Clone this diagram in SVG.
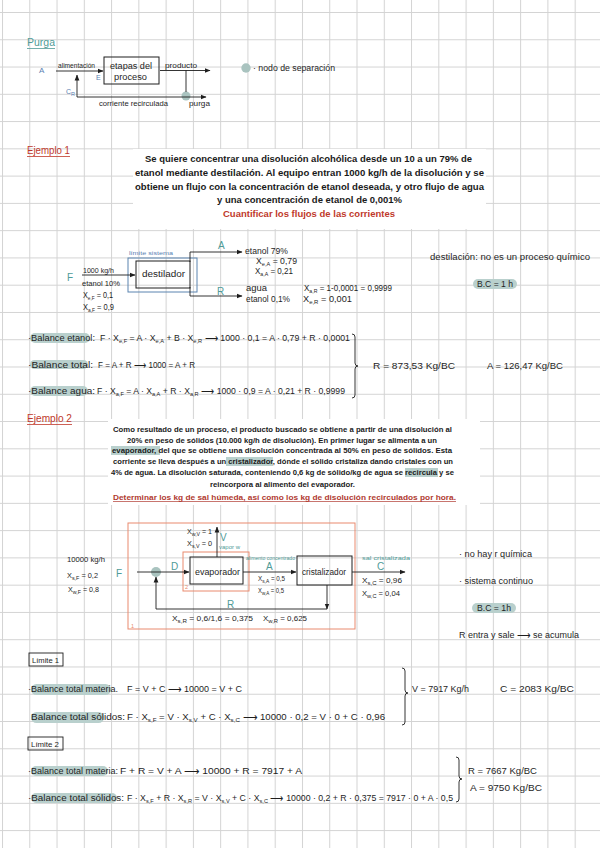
<svg xmlns="http://www.w3.org/2000/svg" width="600" height="848" viewBox="0 0 600 848">
<style>
text{font-family:"Liberation Sans",Arial,sans-serif}
.h{font-size:8.5px;fill:#1e1e1e}
.hs{font-size:7.5px;fill:#1e1e1e}
.sb{font-size:5.5px;baseline-shift:-1.5px}
.tl{fill:#4f9b97;font-size:10px}
.tls{fill:#4f9b97;font-size:5.5px}
.bl{fill:#5a7fb3}
.red{fill:#c0392b}
.p1{font-size:9.5px;font-weight:bold;fill:#1a1a1a}
.p2{font-size:7.5px;font-weight:bold;fill:#1a1a1a}
.ln{fill:none;stroke:#1e1e1e;stroke-width:0.9}
.arr{marker-end:url(#ah)}
.box{fill:none;stroke:#1e1e1e;stroke-width:1}
.hl{fill:#b9d0cd}
.node{fill:#a9c3bf}
</style>
<defs>
<pattern id="grid" x="2" y="12" width="27.27" height="27.27" patternUnits="userSpaceOnUse">
<path d="M0 0.5H27.27M0.5 0V27.27" stroke="#d3d3d3" stroke-width="1" fill="none"/>
</pattern>
<marker id="ah" markerWidth="6" markerHeight="6" refX="5.5" refY="3" orient="auto" markerUnits="userSpaceOnUse">
<path d="M0,0.6 L6,3 L0,5.4z" fill="#1e1e1e"/>
</marker>
</defs>
<rect width="600" height="848" fill="#ffffff"/>
<rect width="600" height="848" fill="url(#grid)"/>

<!-- ===== Purga ===== -->
<g id="purga-title">
<text x="27" y="46" class="tl" textLength="28" lengthAdjust="spacingAndGlyphs">Purga</text>
<line x1="27" y1="48.5" x2="55" y2="48.5" stroke="#4f9b97" stroke-width="0.8"/>
</g>
<g id="purga-labels">
<text x="39" y="73" class="bl" font-size="8">A</text>
<text x="58" y="68" class="hs" textLength="37" lengthAdjust="spacingAndGlyphs">alimentación</text>
<text x="96" y="80" class="bl" font-size="7">E</text>
<text x="66" y="94" class="bl" font-size="7">C<tspan class="sb">R</tspan></text>
<text x="165" y="68" class="hs" textLength="32" lengthAdjust="spacingAndGlyphs">producto</text>
<text x="99" y="106" class="hs" textLength="69" lengthAdjust="spacingAndGlyphs">corriente recirculada</text>
<text x="189" y="106" class="hs" textLength="21" lengthAdjust="spacingAndGlyphs">purga</text>
</g>
<g id="etapas">
<rect x="104" y="57" width="55" height="27" class="box"/>
<text x="110" y="69" class="h" textLength="42" lengthAdjust="spacingAndGlyphs">etapas del</text>
<text x="114" y="80" class="h" textLength="33" lengthAdjust="spacingAndGlyphs">proceso</text>
</g>
<g id="nodo-purga"><circle cx="186" cy="96" r="4.5" class="node"/></g>
<g id="leyenda-nodo">
<circle cx="246" cy="68" r="4.7" class="node"/>
<text x="253" y="71" class="h" textLength="82" lengthAdjust="spacingAndGlyphs">· nodo de separación</text>
</g>
<g id="purga-connectors">
<line x1="56" y1="71" x2="103" y2="71" class="ln arr"/>
<line x1="160" y1="70.5" x2="210" y2="70.5" class="ln arr"/>
<line x1="186" y1="70.5" x2="186" y2="92" class="ln"/>
<line x1="77" y1="97" x2="206" y2="97" class="ln arr"/>
<line x1="77" y1="97" x2="77" y2="75" class="ln arr"/>
</g>

<!-- ===== Ejemplo 1 ===== -->
<g id="ej1-title">
<text x="27" y="154" class="red" font-size="10" textLength="43" lengthAdjust="spacingAndGlyphs">Ejemplo 1</text>
<line x1="27" y1="156.5" x2="70" y2="156.5" stroke="#c0392b" stroke-width="0.8"/>
</g>
<g id="ej1-enunciado">
<rect x="133" y="149" width="353" height="80" fill="#ffffff"/>
<text x="145" y="161.5" class="p1" textLength="327" lengthAdjust="spacingAndGlyphs">Se quiere concentrar una disolución alcohólica desde un 10 a un 79% de</text>
<text x="135" y="175.5" class="p1" textLength="349" lengthAdjust="spacingAndGlyphs">etanol mediante destilación. Al equipo entran 1000 kg/h de la disolución y se</text>
<text x="135" y="189.5" class="p1" textLength="349" lengthAdjust="spacingAndGlyphs">obtiene un flujo con la concentración de etanol deseada, y otro flujo de agua</text>
<text x="217" y="202.5" class="p1" textLength="185" lengthAdjust="spacingAndGlyphs">y una concentración de etanol de 0,001%</text>
<text x="223" y="216.5" class="p1" style="fill:#c0392b" textLength="172" lengthAdjust="spacingAndGlyphs">Cuantificar los flujos de las corrientes</text>
</g>
<g id="ej1-F">
<text x="67" y="281" class="tl" font-size="12">F</text>
<text x="83" y="273" class="hs" textLength="31" lengthAdjust="spacingAndGlyphs">1000 kg/h</text>
<text x="82" y="286" class="hs" textLength="38" lengthAdjust="spacingAndGlyphs">etanol 10%</text>
<text x="83" y="298" class="h" textLength="30" lengthAdjust="spacingAndGlyphs">X<tspan class="sb">e,F</tspan> = 0,1</text>
<text x="83" y="310" class="h" textLength="31" lengthAdjust="spacingAndGlyphs">X<tspan class="sb">a,F</tspan> = 0,9</text>
</g>
<g id="ej1-limite">
<rect x="128" y="258" width="69" height="34" fill="none" stroke="#5a84b0" stroke-width="1"/>
<text x="129" y="254.5" class="bl" font-size="5.5" textLength="44" lengthAdjust="spacingAndGlyphs">límite sistema</text>
</g>
<g id="destilador">
<rect x="136" y="261" width="54" height="27" class="box"/>
<text x="142" y="277" class="h" font-size="9" textLength="43" lengthAdjust="spacingAndGlyphs">destilador</text>
</g>
<g id="ej1-A">
<text x="218" y="249" class="tl" font-size="9">A</text>
<text x="245" y="254" class="h" textLength="43" lengthAdjust="spacingAndGlyphs">etanol 79%</text>
<text x="256" y="264" class="h" textLength="41" lengthAdjust="spacingAndGlyphs">X<tspan class="sb">e,A</tspan> = 0,79</text>
<text x="255" y="274" class="h" textLength="38" lengthAdjust="spacingAndGlyphs">X<tspan class="sb">a,A</tspan> = 0,21</text>
</g>
<g id="ej1-R">
<text x="217" y="295" class="tl" font-size="9">R</text>
<text x="246" y="291" class="h" textLength="21" lengthAdjust="spacingAndGlyphs">agua</text>
<text x="246" y="302" class="h" textLength="44" lengthAdjust="spacingAndGlyphs">etanol 0,1%</text>
<text x="304" y="291" class="h" textLength="88" lengthAdjust="spacingAndGlyphs">X<tspan class="sb">a,R</tspan> = 1-0,0001 = 0,9999</text>
<text x="303" y="302" class="h" textLength="49" lengthAdjust="spacingAndGlyphs">X<tspan class="sb">e,R</tspan> = 0,001</text>
</g>
<g id="ej1-notas">
<text x="430" y="260" class="h" textLength="160" lengthAdjust="spacingAndGlyphs">destilación: no es un proceso químico</text>
<rect x="473" y="279" width="44" height="10" rx="5" class="hl"/>
<text x="477" y="287" class="h" textLength="36" lengthAdjust="spacingAndGlyphs">B.C = 1 h</text>
</g>
<g id="ej1-connectors">
<line x1="82" y1="275" x2="135" y2="275" class="ln arr"/>
<polyline points="190,262 190,252 242,252" class="ln arr"/>
<polyline points="190,287 190,296 242,296" class="ln arr"/>
</g>

<g id="ej1-balances">
<rect x="30" y="333" width="60" height="10" rx="5" class="hl"/>
<text x="28" y="341" class="h" textLength="67" lengthAdjust="spacingAndGlyphs">·Balance etanol:</text>
<text x="100" y="341" class="h" textLength="250" lengthAdjust="spacingAndGlyphs">F · X<tspan class="sb">e,F</tspan> = A · X<tspan class="sb">e,A</tspan> + B · X<tspan class="sb">e,R</tspan> ⟶ 1000 · 0,1 = A · 0,79 + R · 0,0001</text>
<rect x="30" y="360" width="58" height="9" rx="4.5" class="hl"/>
<text x="28" y="368" class="h" textLength="65" lengthAdjust="spacingAndGlyphs">·Balance total:</text>
<text x="98" y="368" class="h" textLength="97" lengthAdjust="spacingAndGlyphs">F = A + R ⟶ 1000 = A + R</text>
<rect x="30" y="386" width="58" height="10" rx="5" class="hl"/>
<text x="28" y="394" class="h" textLength="67" lengthAdjust="spacingAndGlyphs">·Balance agua:</text>
<text x="97" y="394" class="h" textLength="248" lengthAdjust="spacingAndGlyphs">F · X<tspan class="sb">a,F</tspan> = A · X<tspan class="sb">a,A</tspan> + R · X<tspan class="sb">a,R</tspan> ⟶ 1000 · 0,9 = A · 0,21 + R · 0,9999</text>
<path d="M352,334 q3,0 3,3 V363 q0,3 3,3 q-3,0 -3,3 V395 q0,3 -3,3" class="ln"/>
<text x="373" y="369" class="h" textLength="82" lengthAdjust="spacingAndGlyphs">R = 873,53 Kg/BC</text>
<text x="487" y="369" class="h" textLength="76" lengthAdjust="spacingAndGlyphs">A = 126,47 Kg/BC</text>
</g>

<!-- ===== Ejemplo 2 ===== -->
<g id="ej2-title">
<text x="27" y="422" class="red" font-size="10" textLength="45" lengthAdjust="spacingAndGlyphs">Ejemplo 2</text>
<line x1="27" y1="424.5" x2="72" y2="424.5" stroke="#c0392b" stroke-width="0.8"/>
</g>
<g id="ej2-enunciado">
<rect x="108" y="419" width="372" height="86" fill="#ffffff"/>
<rect x="111" y="446" width="49" height="9" class="hl"/>
<rect x="226" y="457" width="47" height="9" class="hl"/>
<rect x="405" y="468" width="33" height="9" class="hl"/>
<text x="113" y="431.5" class="p2" textLength="339" lengthAdjust="spacingAndGlyphs">Como resultado de un proceso, el producto buscado se obtiene a partir de una disolución al</text>
<text x="127" y="442.5" class="p2" textLength="310" lengthAdjust="spacingAndGlyphs">20% en peso de sólidos (10.000 kg/h de disolución). En primer lugar se alimenta a un</text>
<text x="112" y="453" class="p2" textLength="340" lengthAdjust="spacingAndGlyphs">evaporador, del que se obtiene una disolución concentrada al 50% en peso de sólidos. Esta</text>
<text x="113" y="464" class="p2" textLength="340" lengthAdjust="spacingAndGlyphs">corriente se lleva después a un cristalizador, dónde el sólido cristaliza dando cristales con un</text>
<text x="111" y="475" class="p2" textLength="343" lengthAdjust="spacingAndGlyphs">4% de agua. La disolución saturada, conteniendo 0,6 kg de sólido/kg de agua se recircula y se</text>
<text x="210" y="486.5" class="p2" textLength="145" lengthAdjust="spacingAndGlyphs">reincorpora al alimento del evaporador.</text>
<text x="113" y="499.5" class="p2" style="fill:#b03a30" textLength="343" lengthAdjust="spacingAndGlyphs">Determinar los kg de sal húmeda, así como los kg de disolución recirculados por hora.</text>
<line x1="113" y1="501.5" x2="456" y2="501.5" stroke="#b03a30" stroke-width="0.7"/>
</g>
<g id="ej2-limites">
<rect x="128" y="523" width="227" height="106" fill="none" stroke="#e98a6e" stroke-width="1"/>
<text x="131" y="628" fill="#e98a6e" font-size="5.5">1</text>
<rect x="183" y="552" width="66" height="39" fill="none" stroke="#e98a6e" stroke-width="1"/>
<text x="185" y="589" fill="#e98a6e" font-size="5.5">2</text>
</g>
<g id="ej2-F">
<text x="67" y="562" class="hs" textLength="38" lengthAdjust="spacingAndGlyphs">10000 kg/h</text>
<text x="67" y="578" class="hs" textLength="31" lengthAdjust="spacingAndGlyphs">X<tspan class="sb">s,F</tspan> = 0,2</text>
<text x="68" y="592" class="hs" textLength="31" lengthAdjust="spacingAndGlyphs">X<tspan class="sb">w,F</tspan> = 0,8</text>
<text x="116" y="577" class="tl" font-size="12">F</text>
<text x="171" y="570" class="tl" font-size="9">D</text>
</g>
<g id="nodo-mezcla"><circle cx="156" cy="572" r="5" class="node"/></g>
<g id="evaporador">
<rect x="190" y="557" width="53" height="27" class="box"/>
<text x="195" y="575" class="h" textLength="45" lengthAdjust="spacingAndGlyphs">evaporador</text>
</g>
<g id="ej2-V">
<text x="187" y="534" class="hs" textLength="25" lengthAdjust="spacingAndGlyphs">X<tspan class="sb">w,V</tspan> = 1</text>
<text x="187" y="546" class="hs" textLength="25" lengthAdjust="spacingAndGlyphs">X<tspan class="sb">s,V</tspan> = 0</text>
<text x="220" y="541" class="tl" font-size="9">V</text>
<text x="219" y="549" class="tls" textLength="21" lengthAdjust="spacingAndGlyphs">vapor w</text>
</g>
<g id="ej2-A">
<text x="246" y="560" class="tls" textLength="49" lengthAdjust="spacingAndGlyphs">alimento concentrado</text>
<text x="266" y="570" class="tl" font-size="9">A</text>
<text x="258" y="581" class="hs" style="font-size:6.5px" textLength="27" lengthAdjust="spacingAndGlyphs">X<tspan class="sb" style="font-size:5px">s,A</tspan> = 0,5</text>
<text x="258" y="592.5" class="hs" style="font-size:6.5px" textLength="26" lengthAdjust="spacingAndGlyphs">X<tspan class="sb" style="font-size:5px">w,A</tspan> = 0,5</text>
</g>
<g id="cristalizador">
<rect x="297" y="556" width="55" height="29" class="box"/>
<text x="302" y="575" class="h" textLength="44" lengthAdjust="spacingAndGlyphs">cristalizador</text>
</g>
<g id="ej2-C">
<text x="362" y="560" class="tls" textLength="48" lengthAdjust="spacingAndGlyphs">sal cristalizada</text>
<text x="377" y="570" class="tl" font-size="9">C</text>
<text x="362" y="583" class="hs" textLength="40" lengthAdjust="spacingAndGlyphs">X<tspan class="sb">s,C</tspan> = 0,96</text>
<text x="362" y="596" class="hs" textLength="38" lengthAdjust="spacingAndGlyphs">X<tspan class="sb">w,C</tspan> = 0,04</text>
</g>
<g id="ej2-R">
<text x="227" y="608" class="tl" font-size="9">R</text>
<text x="172" y="621" class="hs" textLength="81" lengthAdjust="spacingAndGlyphs">X<tspan class="sb">s,R</tspan> = 0,6/1,6 = 0,375</text>
<text x="263" y="621" class="hs" textLength="44" lengthAdjust="spacingAndGlyphs">X<tspan class="sb">w,R</tspan> = 0,625</text>
</g>
<g id="ej2-connectors">
<line x1="137" y1="572" x2="189" y2="572" class="ln arr"/>
<line x1="217" y1="557" x2="217" y2="527" class="ln arr"/>
<line x1="243" y1="572" x2="296" y2="572" class="ln arr"/>
<line x1="352" y1="572" x2="405" y2="572" class="ln arr"/>
<line x1="327" y1="585" x2="327" y2="609" class="ln arr"/>
<polyline points="327,609 156,609 156,577" class="ln arr"/>
</g>
<g id="ej2-notas">
<text x="459" y="557" class="h" textLength="73" lengthAdjust="spacingAndGlyphs">· no hay r química</text>
<text x="459" y="584" class="h" textLength="74" lengthAdjust="spacingAndGlyphs">· sistema continuo</text>
<rect x="472" y="603" width="44" height="10" rx="5" class="hl"/>
<text x="477" y="611" class="h" textLength="34" lengthAdjust="spacingAndGlyphs">B.C = 1h</text>
<text x="459" y="638" class="h" textLength="120" lengthAdjust="spacingAndGlyphs">R entra y sale ⟶ se acumula</text>
</g>

<!-- ===== Limite 1 ===== -->
<g id="limite1">
<rect x="29" y="653" width="34" height="13" fill="none" stroke="#1e1e1e" stroke-width="0.9"/>
<text x="32" y="663" class="hs" textLength="27" lengthAdjust="spacingAndGlyphs">Límite 1</text>
<rect x="31" y="684" width="80" height="11" rx="5.5" class="hl"/>
<text x="28" y="692" class="h" textLength="90" lengthAdjust="spacingAndGlyphs">·Balance total materia.</text>
<text x="127" y="692" class="h" textLength="115" lengthAdjust="spacingAndGlyphs">F = V + C ⟶ 10000 = V + C</text>
<rect x="31" y="712" width="73" height="11" rx="5.5" class="hl"/>
<text x="31" y="720" class="h" textLength="94" lengthAdjust="spacingAndGlyphs">Balance total sólidos:</text>
<text x="127" y="720" class="h" textLength="258" lengthAdjust="spacingAndGlyphs">F · X<tspan class="sb">s,F</tspan> = V · X<tspan class="sb">s,V</tspan> + C · X<tspan class="sb">s,C</tspan> ⟶ 10000 · 0,2 = V · 0 + C · 0,96</text>
<path d="M402,668 q3,0 3,3 V690 q0,3 3,3 q-3,0 -3,3 V722 q0,3 -3,3" class="ln"/>
<text x="412" y="692" class="h" textLength="57" lengthAdjust="spacingAndGlyphs">V = 7917 Kg/h</text>
<text x="500" y="692" class="h" textLength="74" lengthAdjust="spacingAndGlyphs">C = 2083 Kg/BC</text>
</g>

<!-- ===== Limite 2 ===== -->
<g id="limite2">
<rect x="28" y="737" width="35" height="13" fill="none" stroke="#1e1e1e" stroke-width="0.9"/>
<text x="31" y="747" class="hs" textLength="28" lengthAdjust="spacingAndGlyphs">Límite 2</text>
<rect x="31" y="766" width="77" height="10" rx="5" class="hl"/>
<text x="28" y="774" class="h" textLength="90" lengthAdjust="spacingAndGlyphs">·Balance total materia:</text>
<text x="120" y="774" class="h" textLength="182" lengthAdjust="spacingAndGlyphs">F + R = V + A ⟶ 10000 + R = 7917 + A</text>
<rect x="31" y="793" width="86" height="10" rx="5" class="hl"/>
<text x="28" y="801" class="h" textLength="96" lengthAdjust="spacingAndGlyphs">·Balance total sólidos:</text>
<text x="127" y="801" class="h" textLength="326" lengthAdjust="spacingAndGlyphs">F · X<tspan class="sb">s,F</tspan> + R · X<tspan class="sb">s,R</tspan> = V · X<tspan class="sb">s,V</tspan> + C · X<tspan class="sb">s,C</tspan> ⟶ 10000 · 0,2 + R · 0,375 = 7917 · 0 + A · 0,5</text>
<path d="M456,757 q3,0 3,3 V776 q0,3 3,3 q-3,0 -3,3 V799 q0,3 -3,3" class="ln"/>
<text x="468" y="774" class="h" textLength="69" lengthAdjust="spacingAndGlyphs">R = 7667 Kg/BC</text>
<text x="470" y="791" class="h" textLength="72" lengthAdjust="spacingAndGlyphs">A = 9750 Kg/BC</text>
</g>
</svg>
